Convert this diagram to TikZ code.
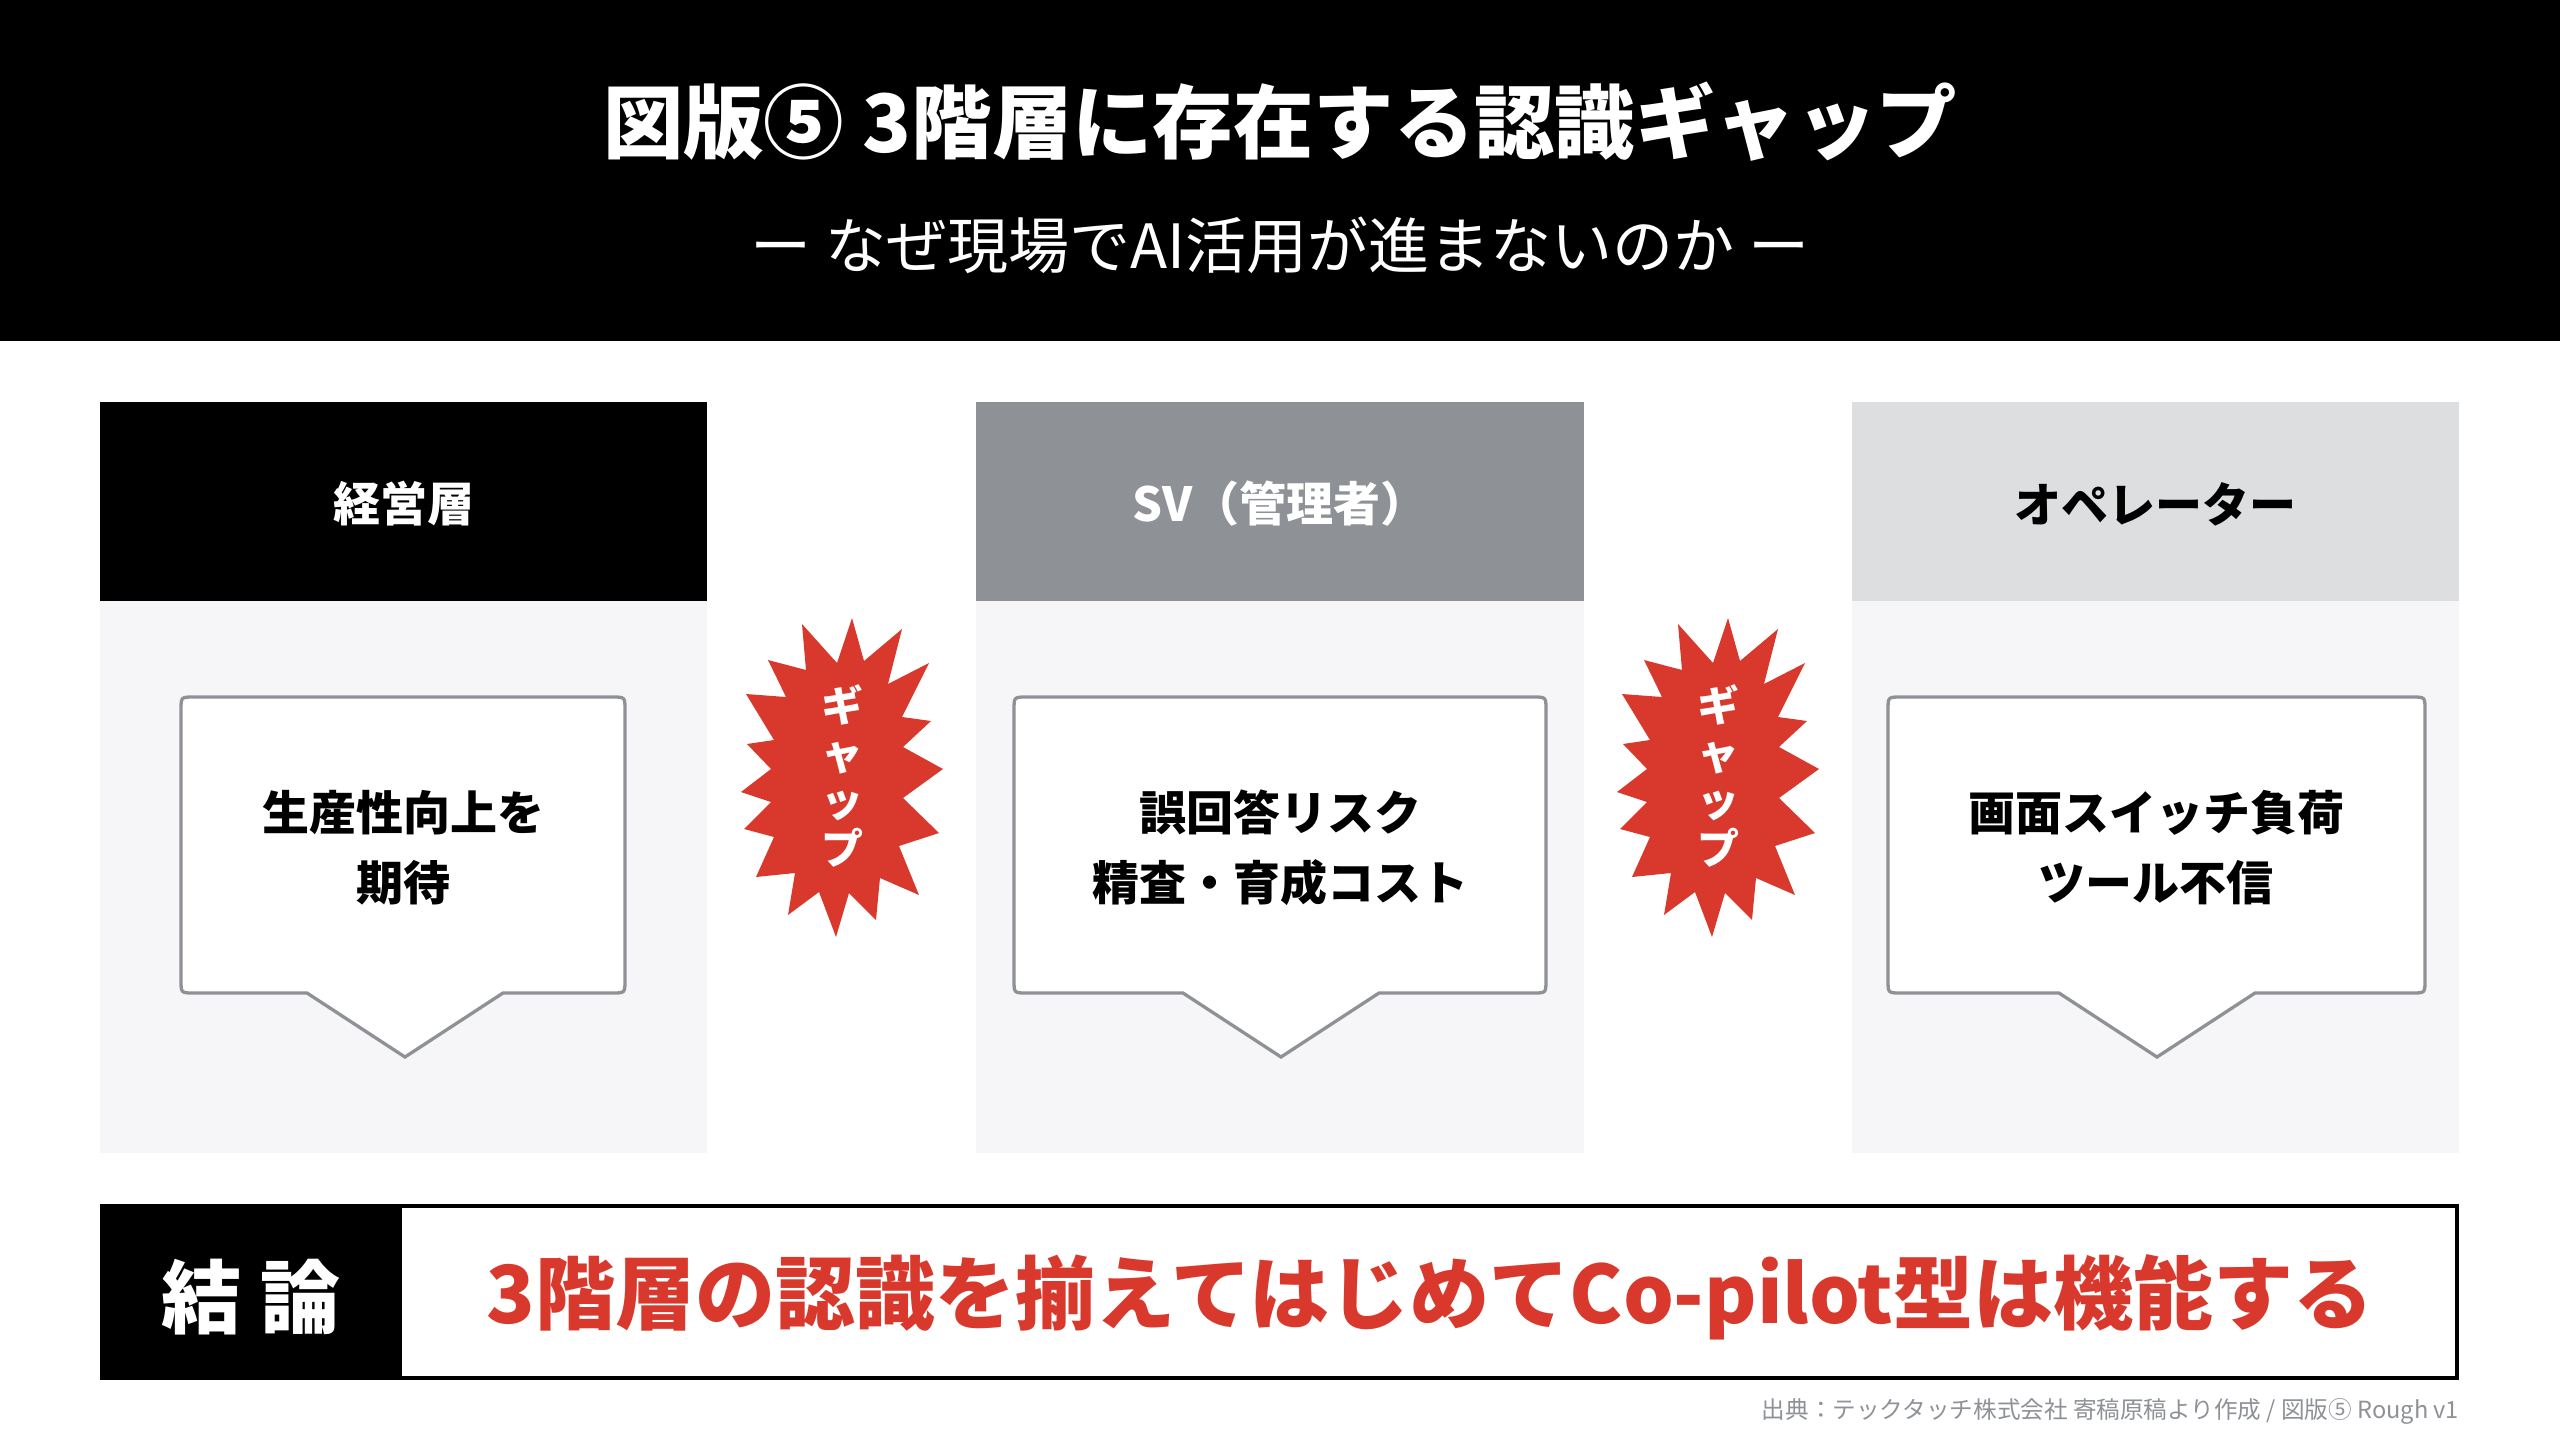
\documentclass[tikz,border=0pt]{standalone}
\usepackage{fontspec}
\setmainfont{Noto Sans CJK JP}
\definecolor{gapred}{HTML}{D9392C}
\definecolor{midgray}{HTML}{8E9196}
\definecolor{lightgray}{HTML}{DDDEE0}
\definecolor{bodygray}{HTML}{F6F6F8}
\newcommand\mybubble[3]{% left, right, center x
  \draw[bubble] ({#3-98},993) -- ({#1+13},993) .. controls (#1,993) .. (#1,980)
    -- (#1,710) .. controls (#1,697) .. ({#1+13},697)
    -- ({#2-13},697) .. controls (#2,697) .. (#2,710)
    -- (#2,980) .. controls (#2,993) .. ({#2-13},993)
    -- ({#3+98},993) -- (#3,1057) -- cycle;}
\newcommand\mystar{(802,624) -- (837,663) -- (852,618) -- (864,661) -- (902,629) -- (888,684) -- (929,663) -- (902,717) -- (931,721) -- (903,747) -- (943,769) -- (903,798) -- (939,833) -- (899,846) -- (919,895) -- (880,878) -- (876,920) -- (849,893) -- (836,937) -- (819,892) -- (788,915) -- (795,873) -- (756,877) -- (774,837) -- (744,829) -- (771,802) -- (741,792) -- (771,769) -- (747,744) -- (774,740) -- (746,694) -- (786,697) -- (768,660) -- (806,670) -- cycle}
\begin{document}
\begin{tikzpicture}[x=0.5pt,y=-0.5pt,
  txt/.style={inner sep=0pt, outer sep=0pt, anchor=center},
  headtxt/.style={txt, font=\fontsize{23.5pt}{28pt}\selectfont\bfseries},
  boxtxt/.style={txt, align=center, font=\fontsize{23.5pt}{35pt}\selectfont\bfseries},
  bubble/.style={draw=midgray, line width=1.65pt, fill=white, line join=miter},
  gaptxt/.style={txt, align=center, text=white, font=\fontsize{21pt}{23.7pt}\selectfont\bfseries}]
\useasboundingbox (0,0) rectangle (2560,1440);
\fill[white] (0,0) rectangle (2560,1440);
% header band
\fill[black] (0,0) rectangle (2560,341);
\node[txt, text=white, font=\fontsize{40.2pt}{48pt}\selectfont\bfseries] (title) at (1280,122) {図版⑤ 3階層に存在する認識ギャップ};
\node[txt, text=white, font=\fontsize{30.5pt}{36pt}\selectfont] (subtitle) at (1280,245) {ー なぜ現場でAI活用が進まないのか ー};
% columns
\fill[bodygray] (100,601) rectangle (707,1153);
\fill[bodygray] (976,601) rectangle (1584,1153);
\fill[bodygray] (1852,601) rectangle (2459,1153);
\fill[black] (100,402) rectangle (707,601);
\fill[midgray] (976,402) rectangle (1584,601);
\fill[lightgray] (1852,402) rectangle (2459,601);
\node[headtxt, text=white] (h1) at (403.5,504) {経営層};
\node[headtxt, text=white] (h2) at (1280,504) {SV（管理者）};
\node[headtxt, text=black] (h3) at (2155.5,504) {オペレーター};
% bubbles
\mybubble{181}{625}{405}
\mybubble{1014}{1546}{1281}
\mybubble{1888}{2425}{2157}
\node[boxtxt] (b1) at (403,848) {生産性向上を\\期待};
\node[boxtxt] (b2) at (1280,848) {誤回答リスク\\精査・育成コスト};
\node[boxtxt] (b3) at (2156,848) {画面スイッチ負荷\\ツール不信};
% gap stars
\fill[gapred] \mystar;
\fill[gapred, shift={(876,0)}] \mystar;
\node[gaptxt] (g1) at (842,776) {ギ\\ャ\\ッ\\プ};
\node[gaptxt] (g2) at (1718,776) {ギ\\ャ\\ッ\\プ};
% conclusion
\fill[black] (100,1204) rectangle (402,1380);
\draw[black, line width=2pt] (102,1206) rectangle (2457,1378);
\node[txt, text=white, font=\fontsize{40pt}{48pt}\selectfont\bfseries] (c1) at (251,1297) {結 論};
\node[txt, text=gapred, font=\fontsize{40pt}{48pt}\selectfont\bfseries] (c2) at (1430,1297) {3階層の認識を揃えてはじめてCo-pilot型は機能する};
% footer
\node[txt, anchor=east, text=midgray, font=\fontsize{11.8pt}{14pt}\selectfont] (src) at (2459,1411) {出典：テックタッチ株式会社 寄稿原稿より作成 / 図版⑤ Rough v1};
\end{tikzpicture}
\end{document}
